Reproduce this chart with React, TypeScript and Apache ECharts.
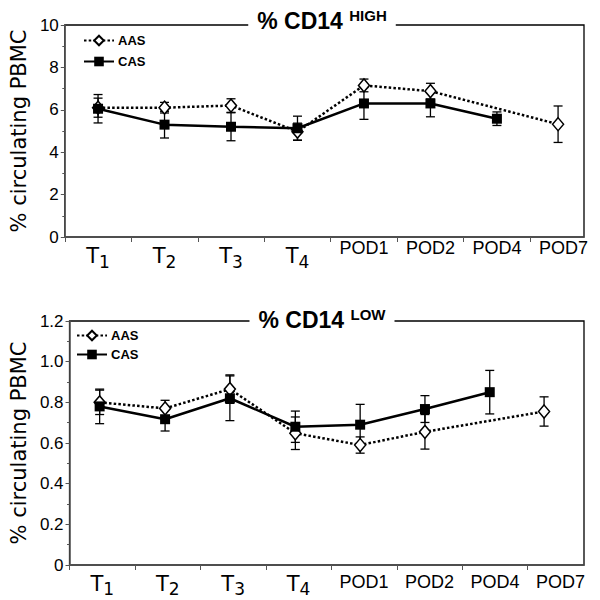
import React, { useEffect, useRef } from 'react';
import * as echarts from 'echarts';

// ---- data ----
const categories = ['T1', 'T2', 'T3', 'T4', 'POD1', 'POD2', 'POD4', 'POD7'];
const labelPositions = [0.5, 1.5, 2.5, 3.5, 4.5, 5.5, 6.5, 7.5];
const tickPositions = [0, 1, 2, 3, 4, 5, 6, 7];
const highTimePos = [0.5, 1.5, 2.5, 3.5, 4.5, 5.5, 6.5, 7.42];
const lowTimePos = [0.46, 1.46, 2.45, 3.45, 4.44, 5.43, 6.42, 7.25];

const aasHigh = [6.1, 6.1, 6.2, 4.97, 7.15, 6.88, null, 5.32];
const aasHighErr = [0.45, 0.25, 0.32, 0.4, 0.3, 0.37, null, 0.86];
const casHigh = [6.05, 5.3, 5.2, 5.13, 6.3, 6.3, 5.58, null];
const casHighErr = [0.67, 0.63, 0.66, 0.57, 0.75, 0.63, 0.32, null];

const aasLow = [0.8, 0.77, 0.865, 0.648, 0.59, 0.655, null, 0.755];
const aasLowErr = [0.06, 0.04, 0.07, 0.08, 0.04, 0.085, null, 0.072];
const casLow = [0.78, 0.717, 0.82, 0.68, 0.69, 0.767, 0.85, null];
const casLowErr = [0.085, 0.058, 0.11, 0.077, 0.1, 0.066, 0.107, null];

const highAxis = { min: 0, max: 10, interval: 2 };
const lowAxis = { min: 0, max: 1.2, interval: 0.2 };
const titles = ['HIGH', 'LOW'];
const seriesNames = ['AAS', 'CAS'];
const yTitle = '% circulating PBMC';

const NARROW = "'Liberation Sans Narrow', 'Liberation Sans', Arial, sans-serif";
const SANS = "'Liberation Sans', Arial, sans-serif";
const DEJAVU = "'DejaVu Sans', Verdana, sans-serif";

function pts(pos: number[], vals: (number | null)[]) {
  const out: number[][] = [];
  vals.forEach((v, i) => { if (v != null) out.push([pos[i], v]); });
  return out;
}
function errPts(pos: number[], vals: (number | null)[], errs: (number | null)[]) {
  const out: number[][] = [];
  vals.forEach((v, i) => {
    const e = errs[i];
    if (v != null && e != null) out.push([pos[i], v - e, v + e]);
  });
  return out;
}

const errRender = (params: any, api: any) => {
  const x = api.value(0);
  const lo = api.coord([x, api.value(1)]);
  const hi = api.coord([x, api.value(2)]);
  const hw = 4.5;
  const st = { stroke: '#000', lineWidth: 1.3 };
  return {
    type: 'group',
    children: [
      { type: 'line', shape: { x1: lo[0], y1: lo[1], x2: hi[0], y2: hi[1] }, style: st },
      { type: 'line', shape: { x1: lo[0] - hw, y1: lo[1], x2: lo[0] + hw, y2: lo[1] }, style: st },
      { type: 'line', shape: { x1: hi[0] - hw, y1: hi[1], x2: hi[0] + hw, y2: hi[1] }, style: st },
    ],
  };
};

function xLabelFormatter(v: number) {
  const i = labelPositions.findIndex((p) => Math.abs(p - v) < 1e-6);
  const c = categories[i];
  if (!c) return '';
  if (c.startsWith('T')) return `{t|T}{s|${c.slice(1)}}`;
  return `{p|${c}}`;
}

function makeXAxis(gridIndex: number, max: number, margin: number, tPad: number, sPad: number) {
  return {
    type: 'value',
    gridIndex,
    min: 0,
    max,
    axisLine: { show: true, lineStyle: { color: '#555', width: 1.5 } },
    axisTick: { show: true, customValues: tickPositions, length: 5, lineStyle: { color: '#555', width: 1 } },
    splitLine: { show: false },
    axisLabel: {
      show: true,
      customValues: labelPositions,
      margin,
      formatter: xLabelFormatter,
      rich: {
        t: { fontFamily: DEJAVU, fontSize: 21, lineHeight: 22, verticalAlign: 'top', color: '#000', padding: [tPad, 0, 0, 0] },
        s: { fontFamily: DEJAVU, fontSize: 17, lineHeight: 17, verticalAlign: 'top', color: '#000', padding: [sPad, 0, 0, 0] },
        p: { fontFamily: NARROW, fontSize: 18, lineHeight: 20, verticalAlign: 'top', color: '#000' },
      },
    },
  };
}

function makeYAxis(gridIndex: number, ax: { min: number; max: number; interval: number }, fmt?: (v: number) => string) {
  return {
    type: 'value',
    gridIndex,
    min: ax.min,
    max: ax.max,
    interval: ax.interval,
    name: yTitle,
    nameLocation: 'middle',
    nameGap: 25,
    nameRotate: 90,
    nameTextStyle: { fontFamily: DEJAVU, fontSize: 21, color: '#000' },
    axisLine: { show: true, lineStyle: { color: '#555', width: 1.5 } },
    axisTick: { show: true, length: 4, lineStyle: { color: '#555', width: 1 } },
    minorTick: { show: true, splitNumber: 2, length: 2.5, lineStyle: { color: '#555', width: 1 } },
    splitLine: { show: false },
    axisLabel: { fontFamily: NARROW, fontSize: 17, color: '#000', margin: 6, formatter: fmt },
  };
}

function makeTitle(sup: string, top: number) {
  return {
    text: `{a|% CD14 }{b|${sup}}`,
    left: 313,
    top,
    textAlign: 'center',
    textVerticalAlign: 'top',
    backgroundColor: '#fff',
    padding: [2, 9, 2, 9],
    textStyle: {
      rich: {
        a: { fontFamily: SANS, fontWeight: 'bold', fontSize: 23, lineHeight: 26, color: '#000' },
        b: { fontFamily: SANS, fontWeight: 'bold', fontSize: 15, lineHeight: 15, verticalAlign: 'top', color: '#000' },
      },
    },
  };
}

function makeLegend(left: number, top: number, gap: number) {
  return {
    data: seriesNames,
    orient: 'vertical',
    left,
    top,
    padding: 0,
    itemWidth: 30,
    itemHeight: 12,
    itemGap: gap,
    selectedMode: false,
    textStyle: { fontFamily: SANS, fontWeight: 'bold', fontSize: 13, color: '#000', padding: [0, 0, 0, -1] },
  };
}

function lineSeries(name: string, idx: number, data: number[][]) {
  const isA = name === 'AAS';
  return {
    name,
    type: 'line',
    xAxisIndex: idx,
    yAxisIndex: idx,
    data,
    silent: true,
    symbol: isA ? 'diamond' : 'rect',
    symbolSize: isA ? [11, 13] : 10,
    showAllSymbol: true,
    itemStyle: isA
      ? { color: '#fff', borderColor: '#000', borderWidth: 1.5 }
      : { color: '#000', borderColor: '#000', borderWidth: 0 },
    lineStyle: { color: '#000', width: 2.5, type: isA ? [2.5, 2.2] : 'solid' },
  };
}

function errSeries(idx: number, data: number[][]) {
  return {
    type: 'custom',
    xAxisIndex: idx,
    yAxisIndex: idx,
    data,
    silent: true,
    encode: { x: 0, y: [1, 2] },
    renderItem: errRender,
  };
}

export default function App() {
  const ref = useRef<HTMLDivElement>(null);
  useEffect(() => {
    if (!ref.current) return;
    const chart = echarts.init(ref.current, undefined, { renderer: 'svg' });
    const option: any = {
      animation: false,
      backgroundColor: '#fff',
      title: [makeTitle(titles[0], 6), makeTitle(titles[1], 305)],
      legend: [makeLegend(83, 34, 8), makeLegend(76, 329, 6)],
      grid: [
        { left: 60, top: 25, right: 16, height: 212, show: true, borderColor: '#000', borderWidth: 1.3, backgroundColor: 'transparent' },
        { left: 60, top: 321, right: 16, height: 244, show: true, borderColor: '#000', borderWidth: 1.3, backgroundColor: 'transparent' },
      ],
      xAxis: [makeXAxis(0, 7.81, 2, 6, 14), makeXAxis(1, 7.86, 8, 0, 7)],
      yAxis: [
        makeYAxis(0, highAxis),
        makeYAxis(1, lowAxis, (v: number) => (v === 0 ? '0' : v.toFixed(1))),
      ],
      series: [
        errSeries(0, errPts(highTimePos, aasHigh, aasHighErr)),
        errSeries(0, errPts(highTimePos, casHigh, casHighErr)),
        lineSeries('AAS', 0, pts(highTimePos, aasHigh)),
        lineSeries('CAS', 0, pts(highTimePos, casHigh)),
        errSeries(1, errPts(lowTimePos, aasLow, aasLowErr)),
        errSeries(1, errPts(lowTimePos, casLow, casLowErr)),
        lineSeries('AAS', 1, pts(lowTimePos, aasLow)),
        lineSeries('CAS', 1, pts(lowTimePos, casLow)),
      ],
    };
    chart.setOption(option);
    return () => chart.dispose();
  }, []);
  return (
    <div
      ref={ref}
      style={{ position: 'fixed', left: 0, top: 0, width: 600, height: 600, background: '#fff' }}
    />
  );
}
